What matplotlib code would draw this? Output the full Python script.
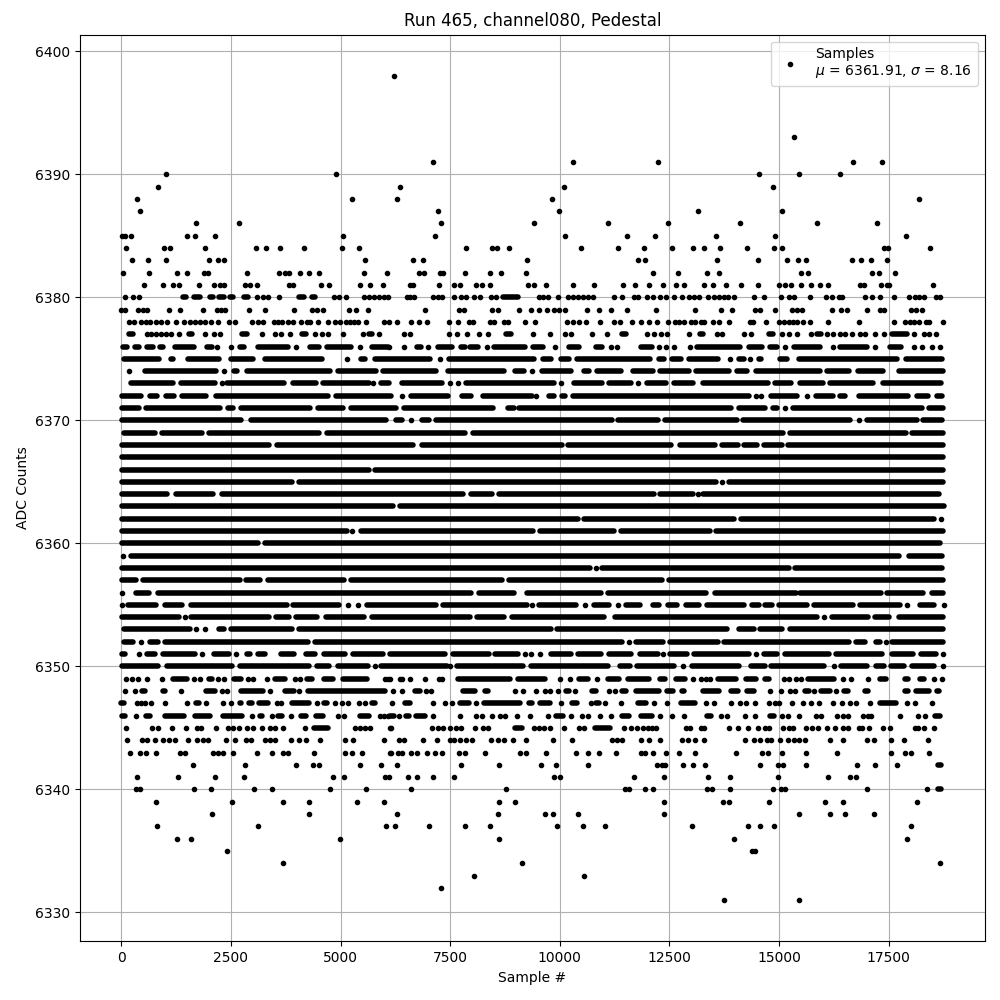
import matplotlib
matplotlib.use("Agg")
import matplotlib.pyplot as plt

# Each level lists sample numbers.
# A bare number is one sample; a (start, end) pair is a stretch of samples whose
# dots merge into an unbroken bar, since single dots cannot be told apart there.
row_6398 = [6228]
row_6393 = [15342]
row_6391 = [7106, 10290, 12245, 16688, 17349]
row_6390 = [1021, 4907, 14544, 15456, 16391]
row_6389 = [838, 6355, 10085, 14864]
row_6388 = [358, 5250, 6287, 9812, 18192]
row_6387 = [427, 7220, 9971, 13154, 15069]
row_6386 = [1707, 2690, 7288, 9403, 11108, 12473, 14111, 15867, 17235]
row_6385 = [20, 80, 221, 1501, 1684, 2141, 5044, 7151, 10108, 11540, 12177, 13564, 14909, 17896]
row_6384 = [107, 975, 1113, 1913, 3078, 3307, 3627, 4176, 5022, 5410, 7856, 8447, 8561, 8834, 10471, 11335, 11927,
            12561, 13040, 13290, 13655, 14271, 14886, 15069, 17394, 17486, 18443]
row_6383 = [244, 610, 1021, 2004, 2210, 2347, 5547, 6651, 6878, 9243, 11790, 11949, 13587, 14522, 15183, 15434, 15616,
            16665, 16870, 17098, 17463]
row_6382 = [38, 632, 1273, 1501, 1890, 1981, 2873, 3604, 3741, 3833, 4084, 4282, 4519, 5525, 6050, 6787, 6901, 7265, 7333,
            7834, 8402, 8652, 9221, 12131, 12698, 13359, 13632, 15502, 15662, 17121, 17280, 17645]
row_6381 = [518, 953, 1181, 1318, 1775, 2118, 2255, 2347, 2827, 2941, 3101, 3833, 3924, 4564, 4747, 5433, 5662, 5959, 6590,
            6651, 7242, 7583, 7720, 8084, 8220, 8402, 9266, 9403, 9675, 10290, 10790, 11449, 11722, 12040, 12348, 12652,
            12834, 13283, 13496, 13792, 14134, 14522, 15008, 15130, 15274, 15502, 15730, 15935, 16118, 16855, 16931, 17326,
            17463, 17516, 18512]
row_6380 = [84, 267, 404, (1410, 1486), (1661, 1791), (2019, 2095), (2233, 2339), (2476, 2553), (2804, 2896), 3101, 3238, 3353,
            3597, (4061, 4168), (4343, 4420), 4839, 4953, 5113, 5525, 5639, 5753, 5867, 5982, 6073, 6515, 6590, 6673, 7106,
            7220, 7310, 7583, 7750, 7864, 8038, 8175, 8425, 8538, (8698, 9039), 9516, 9607, 9721, 9948, 10176, 10290, 10403,
            10517, 10653, 10767, 11245, 11427, 11692, 11790, 11995, 12131, 12283, 12412, 12606, 12789, 12956, 13055, 13184,
            13382, 13511, 13625, 13739, 13830, 13974, 14423, 14651, 15046, 15221, 15335, 15707, 16072, 16209, 16361, 16437,
            16961, 17121, 17303, 17622, 17957, 18109, 18185, 18299, 18580, 18679]
row_6379 = [0, 91, 381, 495, 594, 1090, 1341, 1867, 2187, 2263, 2362, 2918, 3284, 3947, 4359, 4473, 4610, 5182, 5342, 5624,
            6916, 7697, 7811, 8447, 8584, 9061, 9334, 9516, 9706, 9873, 9986, 10108, 10608, 10903, 11176, 11540, 12200, 13085,
            13678, 13929, 14453, 14575, 14909, 15297, 15411, 15525, 16209, 16414, 16551, 17000, 17303, 17387, 18010, 18124, 18261]
row_6378 = [175, 290, 457, 572, 648, 792, 907, 1044, 1250, 1433, 1577, 1676, 1791, 1905, 2050, 2210, 2461, 2599, 2987, 3124,
            3238, 3490, 3581, 3673, 3810, 3924, 4100, 4244, 4305, 4496, 4724, 4862, 4976, 5113, 5220, 5311, 5387, 5570, 5982,
            6105, 6287, 6606, 6787, 6969, 7462, 7674, 7924, 8015, 8402, 8508, 8720, 8811, 9198, 9425, 10153, 10290, 10426,
            10585, 10926, 11245, 11381, 11654, 11843, 12040, 12222, 12473, 12622, 12713, 12827, 12994, 13078, 13222, 13283,
            13496, 13625, 13860, 14347, 14408, 14704, 14993, 15107, 15221, 15312, 15411, 15548, 15715, 16118, 16824, 17622,
            17881, 17995, 18071, 18192, 18360, 18428, 18740]
row_6377 = [(175, 267), 587, 686, 800, 914, 1029, 1143, 1318, (1547, 1608), 1913, 2118, 2248, (2743, 2858), 3216, 3513, 3635,
            3856, (4115, 4206), 4427, 4572, 4702, 5060, 5502, (5639, 5715), 5867, 6439, 6590, 7470, 7652, 7879, 8152, 8357,
            (8773, 8887), 9380, 9767, 10108, 10244, 10729, 11086, (11427, 11503), 11995, 12146, 12298, 12447, 12956,
            (13207, 13268), 13587, 13701, 14202, 14362, (14765, 14856), 15069, 15221, 15411, 15738, (15867, 15958), 16095,
            16232, 16399, 16513, 16665, 16855, 16969, 17189, 17402, (17577, 17919), 18078, 18299, 18413, 18588]
row_6376 = [(38, 137), (305, 396), (594, 724), (892, 953), (1227, 1661), (1943, 2057), 2187, 2507, (2705, 2804), (3124, 3810),
            3993, (4305, 4519), (4686, 5235), 5441, (5715, 6073), 6105, 6446, (6742, 6841), 6985, (7220, 7545), (7750, 7826),
            (7955, 8129), 8334, (8508, 9213), (9380, 9607), 9888, (10214, 10441), (10820, 10972), 11161, 11313, (11843, 12109),
            12260, 12412, 12599, 12971, (13131, 14104), (14309, 14613), (14803, 14955), 15145, (15350, 15943), 16232,
            (16399, 17007), 17197, (17539, 17782), 18086, 18261, 18489, 18679]
row_6375 = [(61, 851), (1125, 1178), (1528, 2219), (2493, 3002), (3268, 4575), 5153, (5457, 5548), (5776, 7045), 7258,
            (7471, 9415), (9620, 9795), (10015, 10198), (10395, 12060), (12257, 12379), (12546, 12759), (12941, 13595), 13884,
            (14081, 14188), 14340, (14552, 14598), (15031, 15176), (15449, 17684), (17896, 18710)]
row_6374 = [167, (532, 2166), 2341, (2560, 2637), (2873, 4765), (4948, 5814), (5974, 7182), (7456, 8732), (8976, 9173), 9362,
            (9597, 10251), (10547, 10676), (10851, 11391), (11664, 12120), (12288, 12941), (13108, 13868), (14043, 14264),
            (14476, 15936), (16088, 16604), (16802, 17380), (17729, 18748)]
row_6373 = [(213, 1178), (1368, 2143), 2288, (2417, 3701), (3922, 4438), (4606, 5639), 5746, (5913, 6095), (6407, 7311), 7486,
            7676, (7851, 9856), 10030, (10334, 10958), (11132, 11619), 11778, (11991, 12424), (12599, 13032), (13268, 14735),
            (14917, 15267), (15487, 15996), (16171, 17136), (17372, 18687)]
row_6372 = [(23, 448), (646, 813), (1011, 1193), (1391, 1938), (2166, 4704), (4902, 6148), 6392, (6597, 7440), (7775, 7972),
            (8254, 9369), 9460, (9764, 9856), (10053, 10122), (10304, 14324), 14476, 14598, (14826, 15419), 15647,
            (15852, 16224), (16399, 16506), (16832, 17950), (18147, 18390), (18603, 18710)]
row_6371 = [(8, 395), (555, 2242), (2440, 2546), (2721, 4294), (4476, 5054), (5229, 6270), (6445, 8466), (8816, 8945),
            (9067, 13899), (14081, 14682), (14856, 14963), 15130, (15312, 18254), (18413, 18732)]
row_6370 = [(23, 2728), (2964, 6042), (6255, 6407), 6612, (6863, 7007), (7182, 11186), (11330, 12227), (12394, 14036),
            (14180, 16620), 16817, (17007, 18140), (18284, 18710)]
row_6369 = [(61, 775), (920, 1839), (1999, 4499), (4682, 7843), (8018, 15084), (15259, 17889), (18033, 18732)]
row_6368 = [(8, 3374), (3542, 6650), (6863, 10046), (10190, 12531), (12751, 13542), (13701, 14051), (14210, 14492),
            (14666, 15062), (15206, 18732)]
row_6367 = [(8, 18748)]
row_6366 = [(23, 5639), (5784, 18748)]
row_6365 = [(8, 3891), (4051, 13564), 13701, (13868, 18732)]
row_6364 = [(8, 1041), (1239, 2090), (2288, 7790), (7965, 8451), (8611, 12136), (12288, 13032), 13146, (13260, 18656)]
row_6363 = [(8, 6194), (6346, 18763)]
row_6362 = [(8, 10410), (10562, 13975), (14142, 18542), 18694]
row_6361 = [(23, 5145), 5267, (5457, 9384), (9536, 11239), (11383, 13428), (13564, 18748)]
row_6360 = [(23, 3116), (3268, 18672)]
row_6359 = [38, (228, 17744), (17957, 18725)]
row_6358 = [(8, 10692), 10828, (10965, 15214), (15373, 18710)]
row_6357 = [(8, 342), (502, 2713), (2850, 3169), (3352, 5084), (5229, 8679), (8839, 12326), (12500, 18732)]
row_6356 = [15, (327, 638), (844, 7972), (8155, 8945), (9257, 10935), (11102, 13329), (13549, 15388), (15487, 17319),
            (17463, 18292), (18489, 18732)]
row_6355 = [15, (160, 798), (988, 1383), (1581, 3777), (3922, 4955), 5168, 5396, (5594, 7174), (7342, 9240), 9362, (9521, 10365),
            10578, (10790, 11110), 11322, (11512, 11832), (12128, 12265), (12470, 12668), (12880, 13162), (13359, 14188),
            (14385, 14530), (14689, 14834), (14993, 15632), (15799, 16696), (16840, 17750), 17912, (18223, 18533), 18755]
row_6354 = [(8, 1307), 1444, (1596, 3374), (3519, 3815), (3975, 4461), (4674, 5525), (5723, 7942), (8117, 8732), (8900, 11011),
            (11254, 15860), 16012, (16209, 17022), (17197, 17516), (17744, 18748)]
row_6353 = [(61, 1573), 1695, 1900, (2227, 2333), (2493, 3891), (4051, 9795), (9939, 13808), (14081, 14438), (14575, 15062),
            (15259, 18732)]
row_6352 = [(61, 267), 456, (646, 836), (988, 4256), (4408, 11414), 11588, (11740, 12348), (12516, 13595), (13747, 16582),
            (16742, 16962), (17220, 17304), 17440, (17577, 18732)]
row_6351 = [(23, 91), 395, (578, 775), (950, 1687), 1847, (2113, 2447), 2614, (2858, 2926), (3108, 3283), (3648, 3929),
            (4218, 4423), (4621, 5107), (5290, 5958), (6126, 7380), (7562, 8375), (8512, 9036), 9204, 9346, 9536, (9787, 10251),
            (10418, 10935), (11117, 11619), (11824, 12227), 12348, (12523, 12896), (13070, 14302), 14476, (14666, 14948),
            (15130, 16126), (16300, 17342), (17577, 18064), (18246, 18580), 18732]
row_6350 = [(23, 838), (1052, 2515), (2705, 4283), (4458, 4740), (4938, 5631), 5776, (5928, 7424), 7485, (7660, 9152),
            (9342, 11100), (11374, 11593), (11752, 12614), 12819, (13002, 14096), (14370, 14681), (14826, 16034), 16262,
            (16422, 16999), (17220, 17402), (17562, 17858), (18033, 18542), 18732]
row_6349 = [99, 251, 381, 587, 922, (1189, 1501), 1653, 1798, (1989, 2065), 2210, 2347, (2576, 2736), 2896, 3010, 3330,
            (3513, 3734), 3955, 4077, (4229, 4359), (4625, 4816), (5044, 5601), 6005, 6073, 6136, 6348, 6401, 6583, 6931, 7242,
            7310, (7682, 8864), (9046, 9660), 9994, 10221, (10426, 10638), 10858, (11108, 11351), (11548, 12033), (12295, 12390),
            (12644, 12865), 13040, 13222, 13336, 13435, (13610, 14020), (14256, 14476), (14674, 14780), 15107, 15221, 15388, 15502,
            (15662, 16262), 16460, 16642, 17030, (17296, 17440), (17866, 17934), (18208, 18314), 18527, 18709]
row_6348 = [91, 305, (480, 549), (953, 1006), 1364, (1928, 2126), 2286, 2400, (2728, 3238), 3399, (3734, 3940), 4061,
            (4252, 6020), 6196, 6408, (6689, 6818), 6954, 7068, (7796, 8068), (8303, 8357), 8986, 9168, 9463, 9660, 9774, 9948,
            (10138, 10214), 10335, (10744, 10835), 11123, 11260, (11411, 11517), (11730, 12272), (12432, 12576), (12789, 12842),
            (13268, 13640), (13914, 14058), (14278, 14438), 14795, 15046, 15244, 15373, (15586, 15692), 15790, (15966, 16163),
            16300, (16475, 16574), (16969, 17030), (17866, 17934), (18132, 18428), (18610, 18656)]
row_6347 = [(0, 53), 366, 457, 549, 671, 998, 1501, (1699, 1768), 1935, 2324, 2507, (2705, 2736), (2918, 2987), (3132, 3345),
            3543, 3635, (3886, 4290), 4473, (4633, 4701), 4884, 5022, 5159, 5410, 5547, (5715, 5776), 6174, (6466, 6587), 7105,
            7386, 7538, (7712, 7924), 8091, (8266, 9092), (9289, 9357), (9539, 9774), 10016, (10274, 10381), 10699, (10820, 10896),
            11025, 11389, (11790, 11972), 12154, 12450, (12758, 13085), 13336, 13511, 13906, 14119, 14248, 14446, 14780, 14917,
            15008, 15296, 15547, 15730, 15912, 16239, 16437, 16619, 16756, 17068, (17296, 17668), 17919, 18102, 18489]
row_6346 = [(23, 91), 335, (556, 663), (998, 1440), (1684, 2019), (2309, 2758), 2987, (3162, 3216), 3429, (3566, 3673), 3878,
            (4107, 4206), (4450, 4610), 4930, 5082, (5448, 5654), 5905, 5997, 6073, (6120, 6211), 6333, (6499, 6552), (6712, 6931),
            7106, 7720, 8091, 8220, 8447, 8645, 8751, 9016, 9312, 9721, (9910, 10062), 10244, 10494, 10653, 10926, 11176,
            (11426, 11578), (11843, 12109), 12290, 12562, 12827, (13360, 13440), 13678, 13815, 14226, 14453, (14788, 14879), 15076,
            15206, 15449, 15844, 15958, 16323, 16460, 16574, 16916, 17030, 17106, 17752, 18170, 18337, (18550, 18679)]
row_6345 = [107, 701, 838, 1158, 1478, 1715, 1806, 2149, 2438, 2553, 2690, 2858, 2995, 3200, 3399, 3505, 3680, 4198,
            (4404, 4724), 5334, 5448, 5562, 5662, 6119, 6158, 7075, 7227, 7333, 7492, 7636, 7750, 8069, 8258, 8372, (8977, 9128),
            9403, 9532, 9645, 9766, 10085, 10441, 10540, (10805, 11138), 11464, 11631, 11767, 11904, 12018, 12109, 12200, 12880,
            12978, 13208, 13283, 13868, 14066, 14294, 14522, 14674, 14780, 15084, 15229, 15313, 15616, 15753, 15890, 16095, 16277,
            16460, 16566, 16817, 16893, 17052, 17364, 17523, 18094, 18170, 18306, 18534]
row_6344 = [137, 480, 587, 762, 953, 1082, 1227, 1524, 1730, 1867, 1981, 2393, 2599, 2835, 2949, 3277, 3391, 3505, 3879, 4054,
            4206, 4542, 5090, 5273, 5982, 6325, 6439, 6878, 7197, 7500, 7576, 7720, 7864, 8000, 8432, 8584, 8736, 8925, 9221, 9835,
            10282, 11199, 11313, 11427, 11858, 12033, 12283, 12774, 12926, 13085, 13283, 14218, 14430, 14567, 14727, 14826, 15024,
            15206, 15335, 15449, 15601, 16171, 16460, 17007, 17166, 17554, 17858, 18398]
row_6343 = [198, 427, 556, 792, 1333, 1463, 2095, 2210, 2324, 2553, 3101, 3444, 3680, 3795, 4404, 5105, 5258, 5479, 6118, 6143,
            6310, 6401, 6613, 6742, 6969, 7151, 7310, 7697, 7833, 8288, 9084, 9221, 9675, 10358, 10653, 10903, 11282, 11843, 11934,
            12131, 12424, 12720, 13085, 14020, 14613, 14742, 15069, 15616, 16323, 17554, 17881, 18018, 18420]
row_6342 = [1631, 2827, 3993, 4381, 4519, 5433, 5913, 6287, 7743, 8607, 9562, 9903, 10653, 12222, 12318, 12409, 12812, 13040,
            13313, 14567, 14978, 15092, 15616, 16779, 17189, 17691, (18620, 18680)]
row_6341 = [358, 1295, 2141, 2804, 4816, 5067, 6020, 6096, 6537, 6742, 7106, 7583, 9873, 9994, 11692, 12382, 13382, 13883, 14978,
            16118, 16619, 16756]
row_6340 = [343, 434, 1661, 2050, 3033, 3444, 4770, 5570, 6598, 8766, 11495, 11578, 11949, 12131, 13359, 13473, 13883, 14864,
            15054, 15130, 17007, 18375, (18630, 18680)]
row_6339 = [792, 2530, 3696, 4290, 5364, 5982, 8607, 8971, 12382, 13724, 13860, 14772, 16049, 16460, 18147]
row_6338 = [2073, 4290, 6287, 8584, 9653, 9835, 10403, 12382, 15456, 16163, 16505, 17166]
row_6337 = [815, 3124, 6027, 6242, 7015, 7834, 8402, 9926, 10517, 11040, 13017, 14294, 14567, 14886, 18010]
row_6336 = [1273, 1593, 4976, 8607, 13974, 17919]
row_6335 = [2416, 14385, 14461]
row_6334 = [3696, 9130, 18671]
row_6333 = [8038, 10540]
row_6332 = [7288]
row_6331 = [13746, 15445]

levels = [6398, 6393, 6391, 6390, 6389, 6388, 6387, 6386, 6385, 6384, 6383, 6382, 6381, 6380, 6379, 6378, 6377, 6376,
          6375, 6374, 6373, 6372, 6371, 6370, 6369, 6368, 6367, 6366, 6365, 6364, 6363, 6362, 6361, 6360, 6359, 6358,
          6357, 6356, 6355, 6354, 6353, 6352, 6351, 6350, 6349, 6348, 6347, 6346, 6345, 6344, 6343, 6342, 6341, 6340,
          6339, 6338, 6337, 6336, 6335, 6334, 6333, 6332, 6331]
rows = [row_6398, row_6393, row_6391, row_6390, row_6389, row_6388, row_6387, row_6386, row_6385, row_6384, row_6383,
        row_6382, row_6381, row_6380, row_6379, row_6378, row_6377, row_6376, row_6375, row_6374, row_6373, row_6372,
        row_6371, row_6370, row_6369, row_6368, row_6367, row_6366, row_6365, row_6364, row_6363, row_6362, row_6361,
        row_6360, row_6359, row_6358, row_6357, row_6356, row_6355, row_6354, row_6353, row_6352, row_6351, row_6350,
        row_6349, row_6348, row_6347, row_6346, row_6345, row_6344, row_6343, row_6342, row_6341, row_6340, row_6339,
        row_6338, row_6337, row_6336, row_6335, row_6334, row_6333, row_6332, row_6331]
x_ticks = [0, 2500, 5000, 7500, 10000, 12500, 15000, 17500]
mean_adc = 6361.91
std_adc = 8.16

fig, ax = plt.subplots(figsize=(10, 10), dpi=100)
for level, row in zip(levels, rows):
    singles = [v for v in row if not isinstance(v, tuple)]
    ax.plot(singles, [level] * len(singles), "k.", zorder=3)
    for start, end in (v for v in row if isinstance(v, tuple)):
        ax.plot([start, end], [level, level], color="k", lw=4.0, solid_capstyle="round", zorder=3)

ax.plot([], [], "k.", label=f"Samples\n$\\mu$ = {mean_adc:.2f}, $\\sigma$ = {std_adc:.2f}")
ax.set_xticks(x_ticks)
ax.set_xlim(-935, 19690)
ax.set_ylim(6327.65, 6401.35)
ax.set_xlabel("Sample #")
ax.set_ylabel("ADC Counts")
ax.set_title("Run 465, channel080, Pedestal")
ax.grid(True)
ax.set_axisbelow(True)
ax.ticklabel_format(useOffset=False, style="plain", axis="y")
ax.legend(loc="upper right")
fig.subplots_adjust(left=0.0803, right=0.9848, top=0.9654, bottom=0.0586)
fig.savefig("out.png", dpi=100)
